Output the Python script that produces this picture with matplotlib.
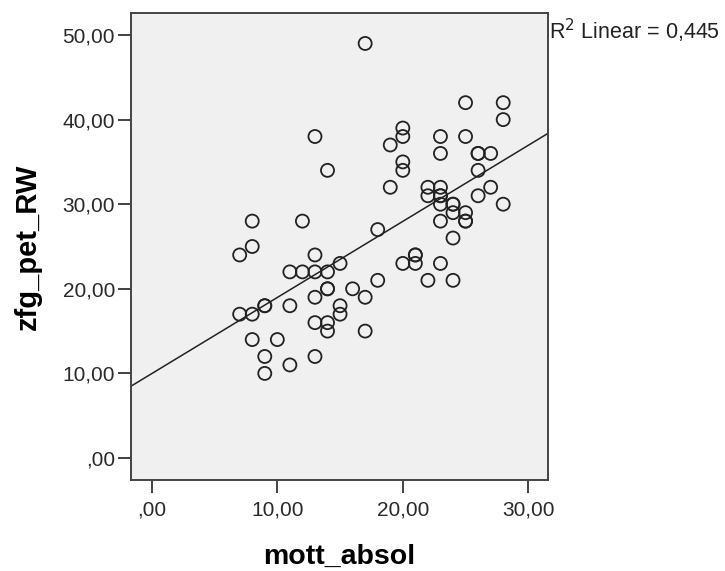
import numpy as np
import matplotlib
matplotlib.use('Agg')
import matplotlib.pyplot as plt
from matplotlib.ticker import FuncFormatter

plt.rcParams['font.family'] = ['Liberation Sans', 'DejaVu Sans']

# values (duplicates = overlapping circles)
mott_absol = [17, 25, 28, 28, 13, 20, 20, 19, 23, 25,
              23, 26, 26, 27, 20, 20, 14, 26, 19, 22,
              23, 27, 22, 23, 23, 26, 23, 24, 24, 28,
              24, 25, 25, 25, 23, 8, 12, 18, 24, 8,
              7, 13, 21, 21, 15, 20, 21, 23, 11, 12,
              13, 14, 18, 22, 24, 14, 14, 16, 13, 17,
              9, 9, 11, 15, 7, 8, 15, 13, 14, 14,
              17, 8, 10, 9, 13, 11, 9]
zfg_pet_RW = [49, 42, 42, 40, 38, 39, 38, 37, 38, 38,
              36, 36, 36, 36, 35, 34, 34, 34, 32, 32,
              32, 32, 31, 31, 31, 31, 30, 30, 30, 30,
              29, 29, 28, 28, 28, 28, 28, 27, 26, 25,
              24, 24, 24, 24, 23, 23, 23, 23, 22, 22,
              22, 22, 21, 21, 21, 20, 20, 20, 19, 19,
              18, 18, 18, 18, 17, 17, 17, 16, 16, 15,
              15, 14, 14, 12, 12, 11, 10]
r2_label = '0,445'
x_ticks = [0, 10, 20, 30]
y_ticks = [0, 10, 20, 30, 40, 50]


def comma_fmt(v, pos):
    s = f'{v:.2f}'.replace('.', ',')
    if s.startswith('0,'):
        s = s[1:]
    return s


fig = plt.figure(figsize=(7.25, 5.71), dpi=100)
ax = fig.add_axes([131 / 725, 1 - 480 / 571, (548 - 131) / 725, (480 - 13) / 571])
ax.set_facecolor('#f0f0f0')

xlim = (-1.66, 31.57)
ylim = (-2.6, 52.6)

ax.scatter(mott_absol, zfg_pet_RW, s=88, facecolors='none', edgecolors='#222222',
           linewidths=1.3, zorder=3)

slope, intercept = np.polyfit(mott_absol, zfg_pet_RW, 1)
xs = np.array(xlim)
ax.plot(xs, slope * xs + intercept, color='#222222', lw=1.1, zorder=2)

ax.set_xlim(xlim)
ax.set_ylim(ylim)
ax.set_xticks(x_ticks)
ax.set_yticks(y_ticks)
ax.xaxis.set_major_formatter(FuncFormatter(comma_fmt))
ax.yaxis.set_major_formatter(FuncFormatter(comma_fmt))
ax.tick_params(length=9.5, width=1.3, color='#333333', labelsize=15, labelcolor='#2a2a2a')
ax.tick_params(axis='y', pad=2)
ax.tick_params(axis='x', pad=5)
for sp in ax.spines.values():
    sp.set_color('#444444')
    sp.set_linewidth(1.4)

ax.set_xlabel('mott_absol', fontsize=20.5, fontweight='bold', labelpad=17.5)
ax.set_ylabel('zfg_pet_RW', fontsize=21, fontweight='bold', labelpad=15)

fig.text(549 / 725, 1 - 31 / 571, 'R$^2$ Linear = ' + r2_label, fontsize=15.5,
         color='#222222', va='center', ha='left')

fig.savefig('out.png', dpi=100)
